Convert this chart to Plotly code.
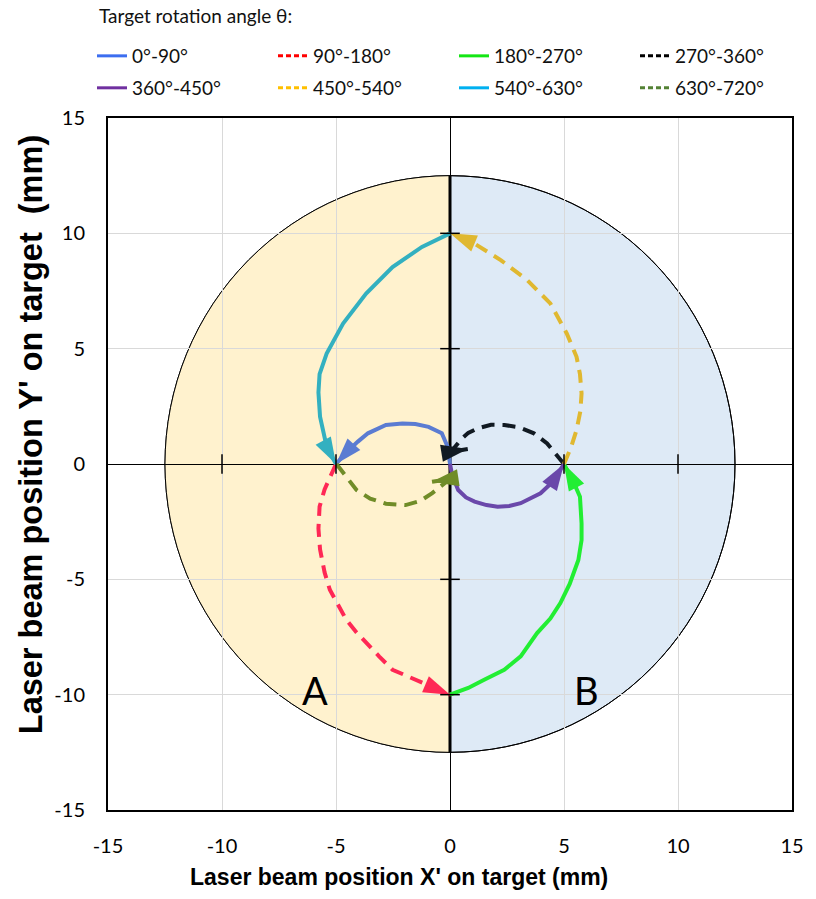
import math
import plotly.graph_objects as go

# ---------------- data ----------------
series_names = ["0°-90°", "90°-180°", "180°-270°", "270°-360°",
                "360°-450°", "450°-540°", "540°-630°", "630°-720°"]

x_0_90 = [0, -0.1, -0.36, -0.94, -1.52, -2.09, -2.81, -3.6, -4.04, -4.5, -5.0]
y_0_90 = [0, 0.74, 1.33, 1.61, 1.73, 1.76, 1.69, 1.33, 0.97, 0.55, 0.0]

x_90_180 = [-5.0, -5.15, -5.5, -5.72, -5.77, -5.7, -5.5, -5.27, -4.9, -4.55, -4.1, -3.68, -3.1, -2.52, -1.37, 0.0]
y_90_180 = [0, -0.35, -1.1, -1.85, -2.8, -3.7, -4.7, -5.45, -6.15, -6.75, -7.3, -7.76, -8.35, -8.92, -9.42, -10.0]

x_180_270 = [0.0, 0.8, 1.5, 2.38, 3.1, 3.82, 4.4, 4.84, 5.25, 5.63, 5.77, 5.77, 5.7, 5.45, 5.0]
y_180_270 = [-10.0, -9.71, -9.35, -8.92, -8.34, -7.33, -6.7, -6.03, -5.2, -4.16, -3.3, -2.57, -1.42, -0.85, 0.0]

x_270_360 = [5.0, 4.6, 4.26, 3.68, 3.0, 2.38, 1.8, 1.23, 0.8, 0.5, 0.04, 0.78]
y_270_360 = [0.0, 0.5, 0.89, 1.33, 1.6, 1.69, 1.7, 1.55, 1.35, 1.08, 0.53, 0.65]

x_360_450 = [0.0, 0.1, 0.36, 0.7, 1.08, 1.6, 2.09, 2.6, 3.1, 3.55, 3.97, 4.5, 5.0]
y_360_450 = [0.0, -0.5, -1.13, -1.45, -1.63, -1.78, -1.85, -1.82, -1.7, -1.5, -1.27, -0.78, 0.0]

x_450_540 = [5.0, 5.3, 5.55, 5.72, 5.77, 5.7, 5.55, 5.12, 4.4, 3.39, 2.24, 1.08, 0.0]
y_450_540 = [0.0, 0.7, 1.47, 2.3, 3.06, 3.9, 4.65, 5.66, 6.96, 7.97, 8.83, 9.55, 10.0]

x_540_630 = [0.0, -1.23, -2.52, -3.68, -4.69, -5.41, -5.72, -5.77, -5.7, -5.55, -5.41, -5.0]
y_540_630 = [10.0, 9.41, 8.54, 7.39, 6.09, 4.79, 3.9, 3.1, 2.05, 1.3, 0.75, 0.0]

x_630_720 = [-4.98, -4.5, -4.1, -3.5, -2.81, -1.95, -1.3, -0.78, -0.3, 0.0, -0.79]
y_630_720 = [0.0, -0.6, -1.13, -1.5, -1.72, -1.78, -1.6, -1.26, -0.9, -0.65, -0.77]

series_x = [x_0_90, x_90_180, x_180_270, x_270_360, x_360_450, x_450_540, x_540_630, x_630_720]
series_y = [y_0_90, y_90_180, y_180_270, y_270_360, y_360_450, y_450_540, y_540_630, y_630_720]
series_dashed = [False, True, False, True, False, True, False, True]

line_colors = ["#5B7CD2", "#FF2855", "#22EE33", "#111A22",
               "#6A48AA", "#E0B830", "#33B0C0", "#708C28"]
legend_colors = ["#3C6EF0", "#FF0000", "#14E614", "#000000",
                 "#7030A0", "#FFC000", "#00B0F0", "#548235"]

ticks = [-15, -10, -5, 0, 5, 10, 15]
inner_ticks = [-10, -5, 5, 10]
target_radius = 12.5
region_labels = ["A", "B"]
region_label_x = [-5.9, 6.0]
region_label_y = [-9.78, -9.78]

legend_title = "Target rotation angle θ:"
x_title = "Laser beam position X' on target (mm)"
y_title = "Laser beam position Y' on target  (mm)"

# ---------------- figure ----------------
fig = go.Figure()

for i in range(8):
    fig.add_trace(go.Scatter(
        x=series_x[i], y=series_y[i], mode="lines",
        line=dict(color=line_colors[i], width=4, backoff=8,
                  dash="13px,8px" if series_dashed[i] else "solid"),
        showlegend=False, hoverinfo="skip"))

# arrowheads at each path's end, oriented along its last segment
for i in range(8):
    xs, ys = series_x[i], series_y[i]
    dx, dy = xs[-1] - xs[-2], ys[-1] - ys[-2]
    ang = math.degrees(math.atan2(dx, dy))
    fig.add_trace(go.Scatter(
        x=[xs[-1]], y=[ys[-1]], mode="markers",
        marker=dict(symbol="arrow", size=28, angle=ang, angleref="up",
                    color=line_colors[i], opacity=1, line=dict(width=0)),
        showlegend=False, hoverinfo="skip"))

# legend-only entries (two rows as two legends)
for i in range(8):
    fig.add_trace(go.Scatter(
        x=[None], y=[None], mode="lines", name=series_names[i],
        line=dict(color=legend_colors[i], width=3,
                  dash="5px,3px" if series_dashed[i] else "solid"),
        legend="legend" if i < 4 else "legend2"))

# cross tick marks on the zero axes
fig.add_trace(go.Scatter(
    x=inner_ticks, y=[0] * len(inner_ticks), mode="markers",
    marker=dict(symbol="line-ns", size=14, line=dict(width=1.5, color="black")),
    showlegend=False, hoverinfo="skip"))
fig.add_trace(go.Scatter(
    x=[0] * len(inner_ticks), y=inner_ticks, mode="markers",
    marker=dict(symbol="line-ew", size=14, line=dict(width=1.5, color="black")),
    showlegend=False, hoverinfo="skip"))

R = target_radius
k = 0.5523 * R
left_half = (f"M 0,{R} C {-k},{R} {-R},{k} {-R},0 "
             f"C {-R},{-k} {-k},{-R} 0,{-R} Z")
fig.add_shape(type="circle", x0=-R, y0=-R, x1=R, y1=R, xref="x", yref="y",
              fillcolor="#DEEAF6", line=dict(color="black", width=1), layer="below")
fig.add_shape(type="path", path=left_half, xref="x", yref="y",
              fillcolor="#FFF2CE", line=dict(width=0), layer="below")
fig.add_shape(type="circle", x0=-R, y0=-R, x1=R, y1=R, xref="x", yref="y",
              fillcolor="rgba(0,0,0,0)", line=dict(color="black", width=1), layer="below")
fig.add_shape(type="line", x0=0, y0=-R, x1=0, y1=R, xref="x", yref="y",
              line=dict(color="black", width=3), layer="between")

for t, xx, yy in zip(region_labels, region_label_x, region_label_y):
    fig.add_annotation(x=xx, y=yy, text=t, showarrow=False, xref="x", yref="y",
                       font=dict(family="Lato, Noto Sans", size=38, color="black"))

fig.add_annotation(xref="paper", yref="paper", x=-0.0159, y=1.1488,
                   xanchor="left", yanchor="middle", text=legend_title, showarrow=False,
                   font=dict(family="Lato, Noto Sans", size=19, color="#111111"))
fig.add_annotation(xref="paper", yref="paper", x=0.4257, y=-0.0968,
                   xanchor="center", yanchor="middle", text=f"<b>{x_title}</b>", showarrow=False,
                   font=dict(family="Liberation Sans, Arial", size=23, color="black"))
fig.add_annotation(xref="paper", yref="paper", x=-0.1126, y=0.543,
                   xanchor="center", yanchor="middle", textangle=-90,
                   text=f"<b>{y_title}</b>", showarrow=False,
                   font=dict(family="Liberation Sans, Arial", size=32.5, color="black"))

axis_common = dict(
    range=[-15, 15], tickvals=ticks, ticktext=[str(t) for t in ticks],
    showgrid=True, gridcolor="#D9D9D9", gridwidth=1,
    zeroline=True, zerolinecolor="black", zerolinewidth=1,
    showline=True, linecolor="black", linewidth=2, mirror=True,
    ticks="outside", tickcolor="rgba(0,0,0,0)",
    tickfont=dict(family="Lato, Noto Sans", size=20, color="black"),
    fixedrange=True,
)
fig.update_xaxes(**axis_common, ticklen=17)
fig.update_yaxes(**axis_common, ticklen=17)

legend_common = dict(
    orientation="h", xref="paper", yref="paper", xanchor="left", yanchor="middle",
    entrywidthmode="pixels", entrywidth=136, bgcolor="rgba(0,0,0,0)",
    font=dict(family="Lato, Noto Sans", size=19, color="#111111"),
)
fig.update_layout(
    width=816, height=899,
    margin=dict(l=108, r=15, t=118, b=89),
    paper_bgcolor="white", plot_bgcolor="white",
    legend=dict(**legend_common, x=-0.0188, y=1.0896),
    legend2=dict(**legend_common, x=-0.0188, y=1.0434),
)

fig.write_html("out.html")
